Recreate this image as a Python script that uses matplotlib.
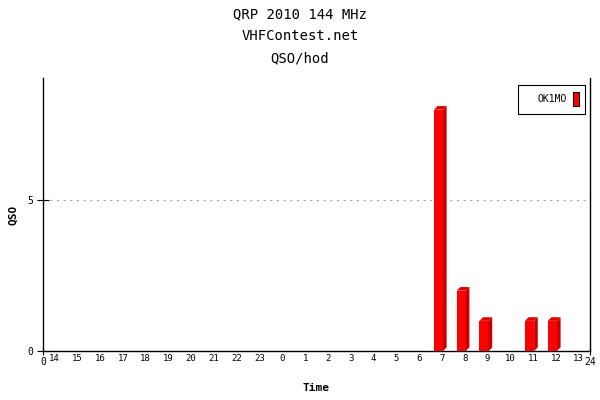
"""QSO per hour bar chart, QRP 2010 144 MHz."""

import matplotlib
matplotlib.use("Agg")
import matplotlib.pyplot as plt
from matplotlib.patches import Polygon, Rectangle

hours = ["14", "15", "16", "17", "18", "19", "20", "21", "22", "23",
         "0", "1", "2", "3", "4", "5", "6", "7", "8", "9", "10", "11", "12", "13"]
qso = [0, 0, 0, 0, 0, 0, 0, 0, 0, 0,
       0, 0, 0, 0, 0, 0, 0, 8, 2, 1, 0, 1, 1, 0]
series_name = "OK1MO"

FRONT = "#ff0000"
SIDE = "#c40000"
TOP = "#e00000"
MONO = "DejaVu Sans Mono"

fig = plt.figure(figsize=(6, 4), dpi=100)
ax = fig.add_axes([0.0717, 0.1225, 0.9116, 0.6825])
ax.set_xlim(0, 24)
ax.set_ylim(0, 9.05)

# 3D-looking bars: front face, darker side and top
dx, dy = 0.16, 0.12
for i, v in enumerate(qso):
    if v <= 0:
        continue
    x0, w = i + 0.15, 0.4
    ax.add_patch(Rectangle((x0, 0), w, v, facecolor=FRONT, edgecolor="none", zorder=3))
    ax.add_patch(Polygon([(x0 + w, 0), (x0 + w + dx, dy), (x0 + w + dx, v + dy), (x0 + w, v)],
                         closed=True, facecolor=SIDE, edgecolor="none", zorder=3))
    ax.add_patch(Polygon([(x0, v), (x0 + dx, v + dy), (x0 + w + dx, v + dy), (x0 + w, v)],
                         closed=True, facecolor=TOP, edgecolor="none", zorder=3))

ax.axhline(5, color="#aaaaaa", linestyle=(0, (2, 4)), linewidth=0.8, zorder=1)

ax.spines["top"].set_visible(False)
for s in ["left", "bottom", "right"]:
    ax.spines[s].set_linewidth(1)

ax.set_yticks([0, 5])
ax.set_yticklabels(["0", "5"], fontsize=7, family=MONO)
ax.tick_params(axis="y", direction="inout", length=8, pad=3)

ax.set_xticks([0, 24])
ax.set_xticklabels(["0", "24"], fontsize=7, family=MONO)
ax.tick_params(axis="x", direction="inout", length=6, pad=1)
ax.set_xticks([i + 0.5 for i in range(len(hours))], minor=True)
ax.set_xticklabels(hours, minor=True, fontsize=6.5, family=MONO)
ax.tick_params(axis="x", which="minor", length=0, pad=2)

fig.text(13 / 600, 1 - 215 / 400, "QSO", rotation=90, ha="center", va="center",
         fontsize=8, family=MONO, fontweight="bold")
fig.text(316 / 600, 1 - 388 / 400, "Time", ha="center", va="center",
         fontsize=8, family=MONO, fontweight="bold")

fig.text(0.5, 0.965, "QRP 2010 144 MHz", ha="center", va="center", fontsize=10, family=MONO)
fig.text(0.5, 0.91, "VHFContest.net", ha="center", va="center", fontsize=10, family=MONO)
fig.text(0.5, 0.855, "QSO/hod", ha="center", va="center", fontsize=10, family=MONO)

# legend box
lx0, ly0, lw, lh = 518 / 600, 1 - 114 / 400, 67 / 600, 29 / 400
fig.patches.append(Rectangle((lx0, ly0), lw, lh, transform=fig.transFigure,
                             facecolor="white", edgecolor="black", linewidth=0.8))
fig.text(567 / 600, ly0 + lh / 2, series_name, ha="right", va="center",
         fontsize=7, family=MONO)
fig.patches.append(Rectangle((573 / 600, 1 - 106 / 400), 6 / 600, 14 / 400,
                             transform=fig.transFigure, facecolor=FRONT,
                             edgecolor="black", linewidth=0.8))

fig.savefig("out.png", dpi=100)
